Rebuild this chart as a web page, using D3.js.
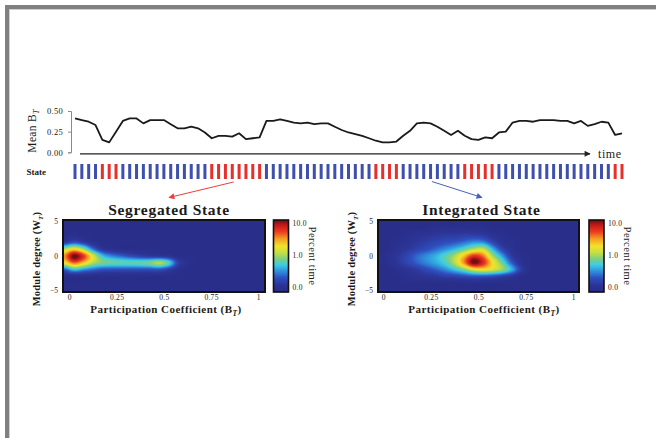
<!DOCTYPE html>
<html><head><meta charset="utf-8">
<script src="https://cdn.jsdelivr.net/npm/d3@7"></script>
<style>
body{margin:0;background:#fff;}
svg{display:block;}
text{font-family:"Liberation Serif","DejaVu Serif",serif;fill:#1a1a1a;}
</style>
</head><body>
<svg id="chart" width="656" height="438"></svg>
<script>
// ---------------- DATA ----------------
const meanBT = [0.41,0.39,0.37,0.33,0.15,0.12,0.25,0.38,0.41,0.41,
  0.35,0.39,0.39,0.39,0.34,0.29,0.29,0.31,0.29,0.24,
  0.17,0.20,0.20,0.19,0.23,0.16,0.17,0.18,0.38,0.38,
  0.40,0.38,0.36,0.35,0.36,0.34,0.35,0.35,0.31,0.27,
  0.24,0.22,0.20,0.17,0.14,0.12,0.12,0.13,0.20,0.26,
  0.35,0.36,0.35,0.31,0.26,0.21,0.26,0.20,0.16,0.15,
  0.18,0.17,0.24,0.25,0.36,0.38,0.38,0.37,0.39,0.39,
  0.39,0.38,0.38,0.35,0.38,0.32,0.34,0.37,0.36,0.21,0.23];
// S = segregated (red), I = integrated (blue)
const states = ["I","I","I","I","S","S","S","I","I","I",
  "I","I","I","I","I","I","I","I","I","I",
  "S","S","S","S","S","S","S","S","I","I",
  "I","I","I","I","I","I","I","I","I","I",
  "I","I","I","I","S","S","S","S","I","I",
  "I","I","I","I","I","I","I","S","S","S",
  "S","S","I","I","I","I","I","I","I","I",
  "I","I","I","I","I","I","I","I","I","S","S"];
const lineTicks = [0, 0.25, 0.5];

// heatmap grid: column centres (participation coefficient) and rows (module degree)
const gridB = [-0.025,0.025,0.075,0.125,0.175,0.225,0.275,0.325,0.375,0.425,0.475,
  0.525,0.575,0.625,0.675,0.725,0.775,0.825,0.875,0.925,0.975,1.025];
const gridW = [5,4,3,2,1,0,-1,-2,-3,-4,-5];
// percent time
const segregatedGrid = [
  [0.08,0.08,0.08,0.08,0.08,0.08,0.08,0.08,0.08,0.08,0.08,0.08,0.08,0.08,0.08,0.08,0.08,0.08,0.08,0.08,0.08,0.08],
  [0.08,0.08,0.08,0.08,0.08,0.08,0.08,0.08,0.08,0.08,0.08,0.08,0.08,0.08,0.08,0.08,0.08,0.08,0.08,0.08,0.08,0.08],
  [0.08,0.09,0.08,0.08,0.08,0.08,0.08,0.08,0.08,0.08,0.08,0.08,0.08,0.08,0.08,0.08,0.08,0.08,0.08,0.08,0.08,0.08],
  [0.12,0.18,0.13,0.09,0.08,0.08,0.08,0.08,0.08,0.08,0.08,0.08,0.08,0.08,0.08,0.08,0.08,0.08,0.08,0.08,0.08,0.08],
  [1.0,1.8,0.9,0.25,0.11,0.09,0.08,0.08,0.08,0.08,0.08,0.08,0.08,0.08,0.08,0.08,0.08,0.08,0.08,0.08,0.08,0.08],
  [3.5,13,6.0,1.5,0.45,0.28,0.22,0.17,0.14,0.12,0.11,0.10,0.08,0.08,0.08,0.08,0.08,0.08,0.08,0.08,0.08,0.08],
  [1.8,4.5,2.5,1.1,0.75,0.68,0.64,0.64,0.66,0.75,1.05,0.6,0.15,0.09,0.08,0.08,0.08,0.08,0.08,0.08,0.08,0.08],
  [0.22,0.45,0.32,0.24,0.19,0.18,0.18,0.18,0.18,0.18,0.19,0.14,0.09,0.08,0.08,0.08,0.08,0.08,0.08,0.08,0.08,0.08],
  [0.08,0.08,0.08,0.08,0.08,0.08,0.08,0.08,0.08,0.08,0.08,0.08,0.08,0.08,0.08,0.08,0.08,0.08,0.08,0.08,0.08,0.08],
  [0.08,0.08,0.08,0.08,0.08,0.08,0.08,0.08,0.08,0.08,0.08,0.08,0.08,0.08,0.08,0.08,0.08,0.08,0.08,0.08,0.08,0.08],
  [0.08,0.08,0.08,0.08,0.08,0.08,0.08,0.08,0.08,0.08,0.08,0.08,0.08,0.08,0.08,0.08,0.08,0.08,0.08,0.08,0.08,0.08]
];
const integratedGrid = [
  [0.08,0.08,0.08,0.08,0.08,0.08,0.08,0.08,0.08,0.08,0.08,0.08,0.08,0.08,0.08,0.08,0.08,0.08,0.08,0.08,0.08,0.08],
  [0.08,0.08,0.08,0.08,0.08,0.08,0.09,0.09,0.09,0.09,0.09,0.09,0.08,0.08,0.08,0.08,0.08,0.08,0.08,0.08,0.08,0.08],
  [0.08,0.08,0.08,0.09,0.10,0.11,0.12,0.13,0.13,0.14,0.14,0.13,0.10,0.09,0.08,0.08,0.08,0.08,0.08,0.08,0.08,0.08],
  [0.08,0.08,0.09,0.10,0.12,0.14,0.16,0.18,0.20,0.24,0.30,0.28,0.16,0.10,0.09,0.08,0.08,0.08,0.08,0.08,0.08,0.08],
  [0.08,0.08,0.10,0.12,0.15,0.18,0.23,0.30,0.40,0.60,1.0,1.2,0.40,0.16,0.10,0.08,0.08,0.08,0.08,0.08,0.08,0.08],
  [0.08,0.09,0.12,0.16,0.23,0.30,0.40,0.60,1.0,2.5,6.0,4.0,1.0,0.35,0.13,0.09,0.08,0.08,0.08,0.08,0.08,0.08],
  [0.08,0.09,0.12,0.16,0.22,0.29,0.38,0.55,1.1,3.5,13,7.0,2.0,0.70,0.22,0.10,0.08,0.08,0.08,0.08,0.08,0.08],
  [0.08,0.08,0.09,0.11,0.13,0.17,0.22,0.30,0.45,0.75,1.5,1.8,1.4,0.90,0.40,0.14,0.08,0.08,0.08,0.08,0.08,0.08],
  [0.08,0.08,0.08,0.09,0.10,0.11,0.12,0.14,0.15,0.17,0.19,0.19,0.17,0.14,0.11,0.08,0.08,0.08,0.08,0.08,0.08,0.08],
  [0.08,0.08,0.08,0.08,0.08,0.08,0.08,0.08,0.08,0.08,0.08,0.08,0.08,0.08,0.08,0.08,0.08,0.08,0.08,0.08,0.08,0.08],
  [0.08,0.08,0.08,0.08,0.08,0.08,0.08,0.08,0.08,0.08,0.08,0.08,0.08,0.08,0.08,0.08,0.08,0.08,0.08,0.08,0.08,0.08]
];
const bTicks = [0, 0.25, 0.5, 0.75, 1];
const bTickLabels = ["0", "0.25", "0.5", "0.75", "1"];
const wTicks = [5, 0, -5];
const cbTicks = [0.1, 1, 10];
const cbTickLabels = ["0.0", "1.0", "10.0"];

// ---------------- STYLE ----------------
const colorStops = [0, 0.1, 0.2, 0.3, 0.38, 0.46, 0.55, 0.64, 0.74, 0.84, 0.93, 1];
const colorRange = ["#272c86","#2d3597","#2f4fc0","#2f98de","#3fcde2","#7ccf84","#c6df42","#f4e22c","#f4a021","#ec3b22","#c51a18","#6e1010"];
const stateColor = {S: "#e5302d", I: "#3e50ad"};

const svg = d3.select("#chart");

// frame
svg.append("rect").attr("x",5).attr("y",5).attr("width",651).attr("height",4).attr("fill","#808080");
svg.append("rect").attr("x",5).attr("y",5).attr("width",4).attr("height",433).attr("fill","#808080");
svg.append("rect").attr("x",9).attr("y",9).attr("width",647).attr("height",1).attr("fill","#cfcfcf");
svg.append("rect").attr("x",9).attr("y",9).attr("width",1).attr("height",429).attr("fill","#cfcfcf");

// ---------------- TIME SERIES ----------------
const xT = d3.scaleLinear().domain([0, meanBT.length - 1]).range([75, 622]);
const yT = d3.scaleLinear().domain([0, 0.5]).range([152.3, 111]);

const yAx = svg.append("g").attr("transform","translate(71,0)")
  .call(d3.axisLeft(yT).tickValues(lineTicks).tickFormat(d3.format(".2f")).tickSize(3));
yAx.select(".domain").attr("stroke","#8a8a8a");
yAx.selectAll(".tick line").attr("stroke","#8a8a8a");
yAx.selectAll(".tick text").attr("font-size",8.5).attr("font-family","Liberation Serif").attr("fill","#333")
  .attr("x",-8).attr("letter-spacing",0.3);

svg.append("text").attr("transform","translate(36,131) rotate(-90)").attr("text-anchor","middle")
  .attr("font-size",11.5).attr("letter-spacing",0.3).text("Mean B")
  .append("tspan").attr("font-size",8).attr("font-style","italic").attr("dy",3).text("T");

const defs = svg.append("defs");
function arrowMarker(id, color, w, h) {
  defs.append("marker").attr("id", id).attr("viewBox","0 0 10 10").attr("refX",9).attr("refY",5)
    .attr("markerWidth", w).attr("markerHeight", h).attr("orient","auto").attr("markerUnits","userSpaceOnUse")
    .append("path").attr("d","M0,0 L10,5 L0,10 Z").attr("fill", color);
}
arrowMarker("arrK", "#222", 8, 6);
arrowMarker("arrR", "#e8403a", 7, 6);
arrowMarker("arrB", "#4a5fb8", 7, 6);

svg.append("line").attr("x1",80).attr("x2",590).attr("y1",153.8).attr("y2",153.8)
  .attr("stroke","#222").attr("stroke-width",1.2).attr("marker-end","url(#arrK)");
svg.append("text").attr("x",598).attr("y",157.5).attr("font-size",12).attr("letter-spacing",0.6).text("time");

svg.append("path").datum(meanBT)
  .attr("d", d3.line().x((d,i)=>xT(i)).y(d=>yT(d)))
  .attr("fill","none").attr("stroke","#1a1a1a").attr("stroke-width",1.8).attr("stroke-linejoin","round");

// state bars
svg.append("text").attr("x",26.5).attr("y",174.5).attr("font-size",9).attr("font-weight","bold").text("State");
svg.append("g").selectAll("rect").data(states).join("rect")
  .attr("x",(d,i)=>xT(i)-1.5).attr("y",164).attr("width",3).attr("height",15)
  .attr("fill",d=>stateColor[d]);

// annotation arrows to the two state panels
svg.append("line").attr("x1",xT(23.2)).attr("y1",182).attr("x2",169).attr("y2",197.5)
  .attr("stroke","#e8403a").attr("stroke-width",1).attr("marker-end","url(#arrR)");
svg.append("line").attr("x1",xT(52.2)).attr("y1",181.5).attr("x2",482).attr("y2",197.5)
  .attr("stroke","#4a5fb8").attr("stroke-width",1).attr("marker-end","url(#arrB)");

// ---------------- HEATMAPS ----------------
const cLog = d3.scaleLog().domain([0.07, 12.6]).range([0,1]).clamp(true);
const cLin = d3.scaleLinear().domain(colorStops).range(colorRange).interpolate(d3.interpolateRgb).clamp(true);
const colorOf = v => cLin(cLog(v));

function cr(p0,p1,p2,p3,t){ // Catmull-Rom
  return p1 + 0.5*t*(p2-p0 + t*(2*p0-5*p1+4*p2-p3 + t*(3*(p1-p2)+p3-p0)));
}
function sampleGrid(L, c, r) {
  const n = gridB.length, m = gridW.length;
  const ci = Math.floor(c), ri = Math.floor(r);
  const tc = c - ci, tr = r - ri;
  const g = (i,j) => L[Math.max(0,Math.min(m-1,i))][Math.max(0,Math.min(n-1,j))];
  const rows = [];
  for (let k=-1;k<=2;k++) rows.push(cr(g(ri+k,ci-1),g(ri+k,ci),g(ri+k,ci+1),g(ri+k,ci+2),tc));
  return cr(rows[0],rows[1],rows[2],rows[3],tr);
}

function panel(cfg) {
  const {grid, box, bRange, wRange, title, cbX, titleX, labelX} = cfg;
  const xS = d3.scaleLinear().domain([0,1]).range(bRange);
  const yS = d3.scaleLinear().domain([5,-5]).range(wRange);
  const colIdx = d3.scaleLinear().domain([gridB[0], gridB[gridB.length-1]]).range([0, gridB.length-1]).clamp(true);
  const rowIdx = d3.scaleLinear().domain([gridW[0], gridW[gridW.length-1]]).range([0, gridW.length-1]).clamp(true);
  const L = grid.map(row => row.map(v => Math.log(v)));

  const canvas = document.createElement("canvas");
  canvas.width = box.w; canvas.height = box.h;
  const ctx = canvas.getContext("2d");
  const img = ctx.createImageData(box.w, box.h);
  for (let py=0; py<box.h; py++) {
    const W = yS.invert(box.y + py + 0.5);
    const r = rowIdx(W);
    for (let px=0; px<box.w; px++) {
      const B = xS.invert(box.x + px + 0.5);
      const v = Math.exp(sampleGrid(L, colIdx(B), r));
      const c = d3.rgb(colorOf(v));
      const o = 4*(py*box.w+px);
      img.data[o]=c.r; img.data[o+1]=c.g; img.data[o+2]=c.b; img.data[o+3]=255;
    }
  }
  ctx.putImageData(img,0,0);
  svg.append("image").attr("x",box.x).attr("y",box.y).attr("width",box.w).attr("height",box.h)
    .attr("preserveAspectRatio","none").attr("href", canvas.toDataURL());
  svg.append("rect").attr("x",box.x).attr("y",box.y).attr("width",box.w).attr("height",box.h)
    .attr("fill","none").attr("stroke","#111").attr("stroke-width",2);

  // axes
  const xa = svg.append("g").attr("transform",`translate(0,${box.y+box.h})`)
    .call(d3.axisBottom(xS).tickValues(bTicks).tickFormat((d,i)=>bTickLabels[i]).tickSize(0).tickPadding(3));
  xa.select(".domain").remove();
  xa.selectAll("text").attr("font-size",7.5).attr("font-family","Liberation Serif").attr("fill","#333").attr("letter-spacing",0.3);
  const ya = svg.append("g").attr("transform",`translate(${box.x},0)`)
    .call(d3.axisLeft(yS).tickValues(wTicks).tickSize(0).tickPadding(5));
  ya.select(".domain").remove();
  ya.selectAll("text").attr("font-size",7.5).attr("font-family","Liberation Serif").attr("fill","#333");

  svg.append("text").attr("x",titleX).attr("y",box.y-5).attr("text-anchor","middle")
    .attr("font-size",15.5).attr("font-weight","bold").attr("letter-spacing",0.7).text(title);

  const xl = svg.append("text").attr("x",labelX).attr("y",313).attr("text-anchor","middle")
    .attr("font-size",11).attr("font-weight","bold").attr("letter-spacing",0.45).text("Participation Coefficient (B");
  xl.append("tspan").attr("font-size",7.5).attr("font-style","italic").attr("dy",2.5).text("T");
  xl.append("tspan").attr("dy",-2.5).text(")");

  const yl = svg.append("text").attr("transform",`translate(${box.x-23},${box.y+39}) rotate(-90)`)
    .attr("text-anchor","middle").attr("font-size",10.5).attr("font-weight","bold").attr("letter-spacing",0.2).text("Module degree (W");
  yl.append("tspan").attr("font-size",7).attr("font-style","italic").attr("dy",2.5).text("T");
  yl.append("tspan").attr("dy",-2.5).text(")");

  // colorbar
  const cbY = d3.scaleLog().domain(cLog.domain()).range([box.y+box.h, box.y]);
  const cb = svg.append("g");
  const steps = d3.range(0, box.h);
  cb.selectAll("rect").data(steps).join("rect")
    .attr("x",cbX).attr("y",d=>box.y+box.h-d-1).attr("width",15).attr("height",1.2)
    .attr("fill",d=>cLin((d+0.5)/box.h));
  svg.append("rect").attr("x",cbX).attr("y",box.y).attr("width",15).attr("height",box.h)
    .attr("fill","none").attr("stroke","#111").attr("stroke-width",1.6);
  svg.append("g").selectAll("text").data(cbTicks).join("text")
    .attr("x",cbX+19).attr("y",d=>cbY(d)).attr("dy","0.35em").attr("font-size",7.5).attr("fill","#333")
    .attr("letter-spacing",0.3).text((d,i)=>cbTickLabels[i]);
  svg.append("text").attr("transform",`translate(${cbX+35},${box.y+box.h/2}) rotate(90)`)
    .attr("text-anchor","middle").attr("font-size",10.5).attr("letter-spacing",0.5).text("Percent time");
}

panel({grid: segregatedGrid, box:{x:63,y:220,w:202,h:72}, bRange:[69.3,258.3], wRange:[221,290.5],
  title:"Segregated State", cbX:273.5, titleX:169, labelX:166});
panel({grid: integratedGrid, box:{x:378,y:220,w:201,h:72}, bRange:[383.3,573.3], wRange:[221,290.5],
  title:"Integrated State", cbX:589, titleX:481.5, labelX:484});
</script>
</body></html>
